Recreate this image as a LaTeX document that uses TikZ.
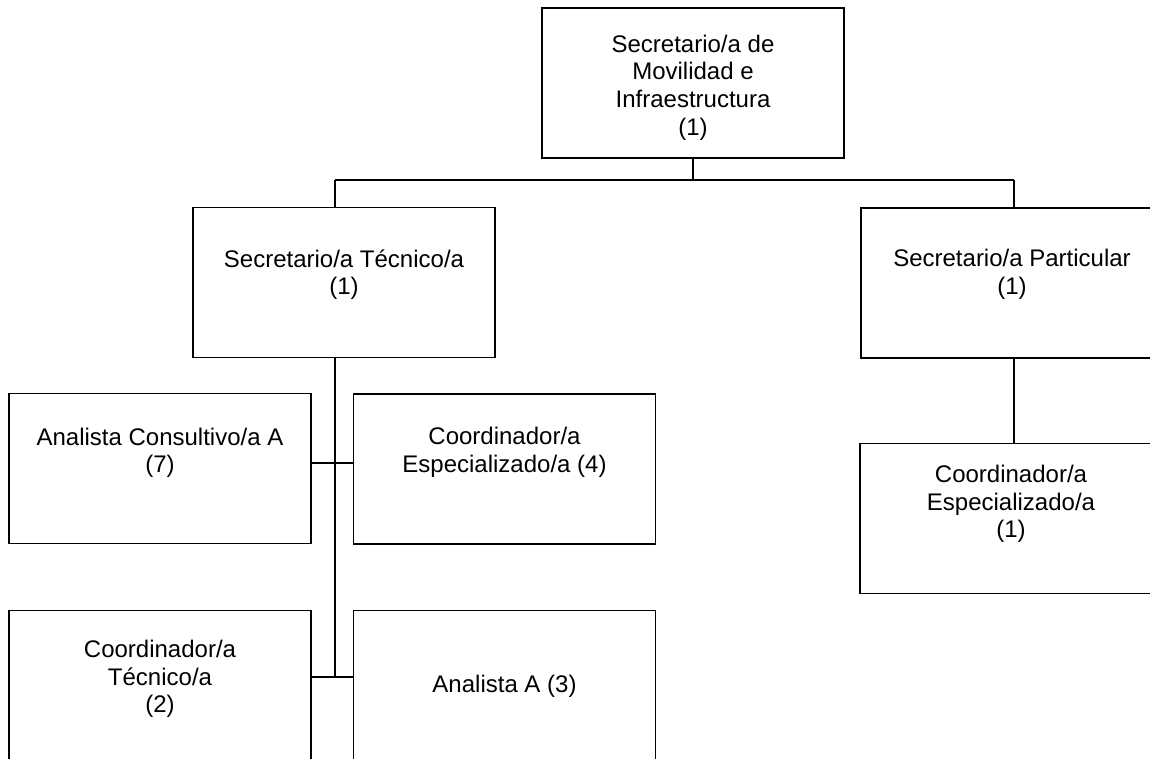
\documentclass[tikz,border=0pt]{standalone}
\usepackage{fontspec}
\setmainfont{Liberation Sans}
\usetikzlibrary{positioning,calc}
\tikzset{
    % --- Position box (rectangle, text placed separately) ---
    post/.style = {
        rectangle, draw, line width=0.9pt,
        minimum width=151pt, minimum height=75pt,
        inner sep=0pt
    },
    % --- Text inside a position box (anchored on its last line) ---
    post text/.style = {
        font=\fontsize{12}{13.8}\selectfont, align=center,
        inner sep=0pt, anchor=base
    },
    % --- Organisation line ---
    org line/.style = {
        line width=0.9pt
    }
}

\begin{document}
\begin{tikzpicture}[x=0.5pt, y=-0.5pt]

\useasboundingbox (0,0) rectangle (1150,759);

% ---------------------------------------------------------
% Boxes
% ---------------------------------------------------------
\node[post] (Sec) at (693, 83) {};
\node[post] (SecTec) at (344, 282.5) {};
\node[post] (SecPart) at (1012, 283) {};
\node[post] (CoordEsp1) at (1011, 518.5) {};
\node[post] (AnCons) at (160, 468.5) {};
\node[post] (CoordEsp4) at (504.5, 469) {};
\node[post] (CoordTec) at (160, 685.5) {};
\node[post] (AnA) at (504.5, 685.5) {};

% ---------------------------------------------------------
% Texts
% ---------------------------------------------------------
\node[post text] (SecT) at ($(Sec.north)+(0,128)$) {Secretario/a de\\Movilidad e\\Infraestructura\\(1)};
\node[post text] (SecTecT) at ($(SecTec.north)+(0,88)$) {Secretario/a Técnico/a\\(1)};
\node[post text] (SecPartT) at ($(SecPart.north)+(0,87)$) {Secretario/a Particular\\(1)};
\node[post text] (CoordEsp1T) at ($(CoordEsp1.north)+(0,95)$) {Coordinador/a\\Especializado/a\\(1)};
\node[post text] (AnConsT) at ($(AnCons.north)+(0,80)$) {Analista Consultivo/a A\\(7)};
\node[post text] (CoordEsp4T) at ($(CoordEsp4.north)+(0,79)$) {Coordinador/a\\Especializado/a (4)};
\node[post text] (CoordTecT) at ($(CoordTec.north)+(0,103)$) {Coordinador/a\\Técnico/a\\(2)};
\node[post text] (AnAT) at ($(AnA.north)+(0,83)$) {Analista A (3)};

% ---------------------------------------------------------
% Lines
% ---------------------------------------------------------
\coordinate (busL) at (335, 180);
\coordinate (busR) at (1014, 180);
\coordinate (joinA) at (335, 463);
\coordinate (joinB) at (335, 677);

\draw[org line] (Sec.south) -- (Sec.south |- busL);
\draw[org line] (busL) -- (busR);
\draw[org line] (busL) -- (busL |- SecTec.north);
\draw[org line] (busR) -- (busR |- SecPart.north);
\draw[org line] (busR |- SecPart.south) -- (busR |- CoordEsp1.north);

\draw[org line] (busL |- SecTec.south) -- (joinB);
\draw[org line] (AnCons.east |- joinA) -- (CoordEsp4.west |- joinA);
\draw[org line] (CoordTec.east |- joinB) -- (AnA.west |- joinB);

\end{tikzpicture}
\end{document}
